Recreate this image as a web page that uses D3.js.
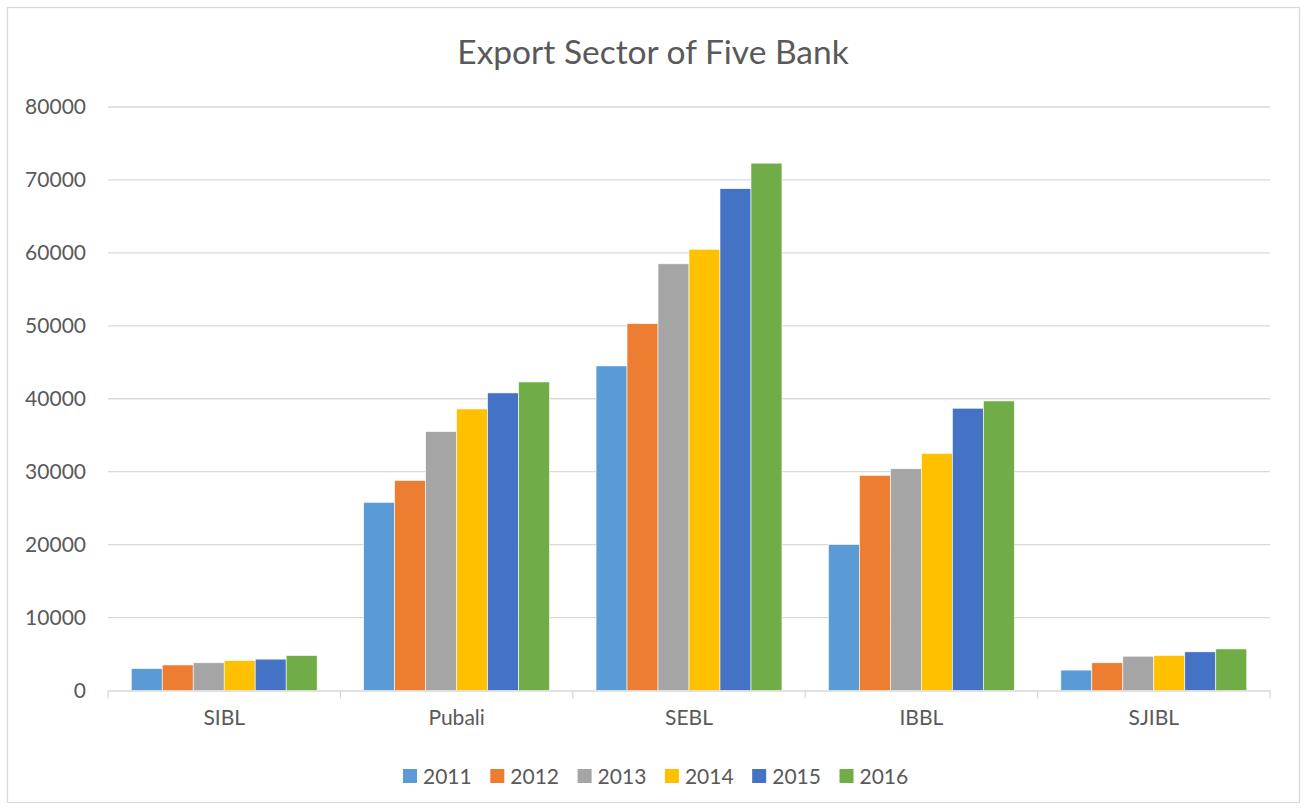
<!DOCTYPE html>
<html>
<head>
<meta charset="utf-8">
<script src="https://cdn.jsdelivr.net/npm/d3@7"></script>
<style>
  body { margin: 0; background: #fff; }
  svg { font-family: Lato, "Open Sans", sans-serif; }
</style>
</head>
<body>
<svg id="chart" width="1307" height="810"></svg>
<script>
// bank categories and yearly series
const banks = ['SIBL', 'Pubali', 'SEBL', 'IBBL', 'SJIBL'];
const years = ['2011', '2012', '2013', '2014', '2015', '2016'];
const values2011 = [3000, 25800, 44500, 20000, 2800];
const values2012 = [3500, 28800, 50300, 29500, 3800];
const values2013 = [3800, 35500, 58500, 30400, 4700];
const values2014 = [4100, 38600, 60500, 32500, 4800];
const values2015 = [4300, 40800, 68800, 38700, 5300];
const values2016 = [4800, 42300, 72300, 39700, 5700];
const yTicks = [0, 10000, 20000, 30000, 40000, 50000, 60000, 70000, 80000];

const colors = ['#5b9bd5', '#ed7d31', '#a5a5a5', '#ffc000', '#4472c4', '#70ad47'];
const series = [values2011, values2012, values2013, values2014, values2015, values2016];

const svg = d3.select('#chart');

// outer frame
svg.append('rect')
  .attr('x', 7.5).attr('y', 7.5)
  .attr('width', 1292).attr('height', 795)
  .attr('fill', '#fff').attr('stroke', '#d9d9d9').attr('stroke-width', 1.3);

// title
svg.append('text')
  .attr('x', 653).attr('y', 64)
  .attr('text-anchor', 'middle')
  .attr('fill', '#595959')
  .attr('font-size', 33.5)
  .text('Export Sector of Five Bank');

const margin = {left: 108, right: 1270, top: 107, bottom: 690.5};

const x = d3.scaleBand()
  .domain(banks)
  .range([margin.left, margin.right]);

const xInner = d3.scaleBand()
  .domain(years)
  .range([0, x.bandwidth()])
  .paddingOuter(0.75)
  .paddingInner(0);

const y = d3.scaleLinear()
  .domain([0, 80000])
  .range([margin.bottom, margin.top]);

// gridlines
svg.append('g')
  .selectAll('line')
  .data(yTicks.slice(1))
  .join('line')
  .attr('x1', margin.left).attr('x2', margin.right)
  .attr('y1', d => y(d)).attr('y2', d => y(d))
  .attr('stroke', '#d9d9d9').attr('stroke-width', 1.3);

// y axis labels
const yAxis = d3.axisLeft(y).tickValues(yTicks).tickSize(0).tickPadding(22).tickFormat(d3.format('d'));
svg.append('g')
  .attr('transform', `translate(${margin.left},0)`)
  .call(yAxis)
  .call(g => g.select('.domain').remove())
  .selectAll('text')
    .attr('fill', '#595959')
    .attr('font-size', 21)
    .attr('font-family', 'Lato, sans-serif');

// bars
const groups = svg.append('g')
  .selectAll('g')
  .data(banks)
  .join('g')
  .attr('transform', d => `translate(${x(d)},0)`);

groups.selectAll('rect')
  .data((b, i) => years.map((yr, k) => ({year: yr, value: series[k][i], color: colors[k]})))
  .join('rect')
  .attr('x', d => xInner(d.year))
  .attr('width', xInner.bandwidth())
  .attr('y', d => y(d.value))
  .attr('height', d => y(0) - y(d.value))
  .attr('fill', d => d.color)
  .attr('stroke', '#fff')
  .attr('stroke-width', 0.6);

// x axis
const xAxis = d3.axisBottom(x).tickSize(0).tickPadding(20);
const gx = svg.append('g')
  .attr('transform', `translate(0,${margin.bottom})`)
  .call(xAxis);
gx.select('.domain').attr('stroke', '#d9d9d9').attr('stroke-width', 1.3);
gx.selectAll('text')
  .attr('fill', '#595959')
  .attr('font-size', 21)
  .attr('font-family', 'Lato, sans-serif');
// category separators
gx.append('g')
  .selectAll('line')
  .data(banks.map(b => x(b)).concat([margin.right]))
  .join('line')
  .attr('x1', d => d).attr('x2', d => d)
  .attr('y1', 0).attr('y2', 8)
  .attr('stroke', '#d9d9d9').attr('stroke-width', 1.3);

// legend
const legend = svg.append('g')
  .attr('transform', 'translate(403,769)');
const items = legend.selectAll('g')
  .data(years)
  .join('g')
  .attr('transform', (d, i) => `translate(${i * 87.3},0)`);
items.append('rect')
  .attr('width', 14).attr('height', 14)
  .attr('fill', (d, i) => colors[i]);
items.append('text')
  .attr('x', 20).attr('y', 7)
  .attr('dy', '0.36em')
  .attr('fill', '#595959')
  .attr('font-size', 21)
  .text(d => d);
</script>
</body>
</html>
